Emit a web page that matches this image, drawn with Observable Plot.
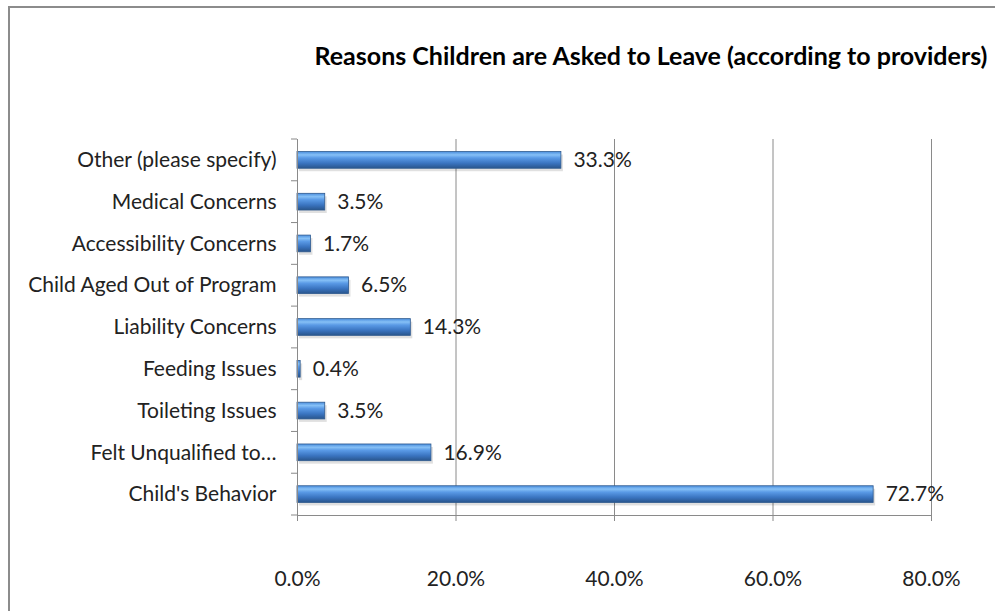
<!DOCTYPE html>
<html><head><meta charset="utf-8">
<script src="https://cdn.jsdelivr.net/npm/d3@7"></script>
<script src="https://cdn.jsdelivr.net/npm/@observablehq/plot@0.6"></script>
<style>
body{margin:0;background:#fff;font-family:Lato,"Open Sans",sans-serif}
#wrap{position:relative;width:995px;height:611px;overflow:hidden}
#frame{position:absolute;left:8px;top:6px;width:1100px;height:700px;border:2px solid #8c8c8c;box-sizing:border-box}
#title{position:absolute;top:40px;left:651px;transform:translateX(-50%);font-weight:bold;font-size:25px;white-space:nowrap;color:#000;line-height:30px}
#chart{position:absolute;left:0;top:0}
</style></head>
<body>
<div id="wrap"><div id="frame"></div><div id="title">Reasons Children are Asked to Leave (according to providers)</div><div id="chart"></div></div>
<script>
const categories = ["Other (please specify)","Medical Concerns","Accessibility Concerns","Child Aged Out of Program","Liability Concerns","Feeding Issues","Toileting Issues","Felt Unqualified to…","Child's Behavior"];
const values = [33.3, 3.5, 1.7, 6.5, 14.3, 0.4, 3.5, 16.9, 72.7];
const xTicks = [0, 20, 40, 60, 80];

const data = categories.map((c, i) => ({category: c, value: values[i]}));
const fmt = d => d.toFixed(1) + "%";

const boundaryTicks = (index, scales, values, dims) => {
  const g = d3.create("svg:g");
  const y = scales.y, x0 = scales.x(0);
  const step = y.step();
  const ys = categories.map(c => y(c) - (step - y.bandwidth()) / 2);
  ys.push(ys[ys.length - 1] + step);
  for (const yy of ys) {
    g.append("line").attr("x1", x0 - 6).attr("x2", x0).attr("y1", yy).attr("y2", yy).attr("stroke", "#888");
  }
  return g.node();
};

const chart = Plot.plot({
  width: 995, height: 611,
  marginLeft: 297, marginRight: 64, marginTop: 139, marginBottom: 96,
  style: {fontFamily: "Lato, 'Open Sans', sans-serif", fontSize: "21px", color: "#222", background: "transparent", overflow: "visible"},
  x: {domain: [0, 80]},
  y: {domain: categories, paddingInner: 0.6, paddingOuter: 0.3, round: false},
  marks: [
    Plot.ruleX(xTicks.slice(1), {stroke: "#8a8a8a", strokeWidth: 1}),
    Plot.barX(data, {x: "value", y: "category", fill: "#000", fillOpacity: 0.12, dx: 2, dy: 3}),
    Plot.barX(data, {x: "value", y: "category", fill: "url(#barGrad)", stroke: "#2f5a8f", strokeWidth: 0.8}),
    Plot.frame({anchor: "left", stroke: "#8a8a8a"}),
    Plot.frame({anchor: "bottom", stroke: "#8a8a8a"}),
    Plot.axisX({ticks: xTicks, tickSize: 6, tickPadding: 50, tickFormat: fmt, stroke: "#8a8a8a", fill: "#222", fontSize: 21, label: null}),
    Plot.axisY({tickSize: 0, tickPadding: 21, fill: "#222", fontSize: 21, label: null}),
    boundaryTicks,
    Plot.text(data, {x: "value", y: "category", text: d => fmt(d.value), textAnchor: "start", dx: 12, fill: "#222", fontSize: 21})
  ]
});

const svg = d3.select(chart);
const defs = svg.insert("defs", ":first-child");
const grad = defs.append("linearGradient").attr("id", "barGrad").attr("x1", 0).attr("y1", 0).attr("x2", 0).attr("y2", 1);
[[0, "#4a8ede"], [0.2, "#86c0f6"], [0.38, "#5a9ae6"], [0.7, "#3a74c0"], [1, "#29558c"]].forEach(([o, c]) =>
  grad.append("stop").attr("offset", o).attr("stop-color", c));

document.getElementById("chart").appendChild(chart);
</script>
</body></html>
